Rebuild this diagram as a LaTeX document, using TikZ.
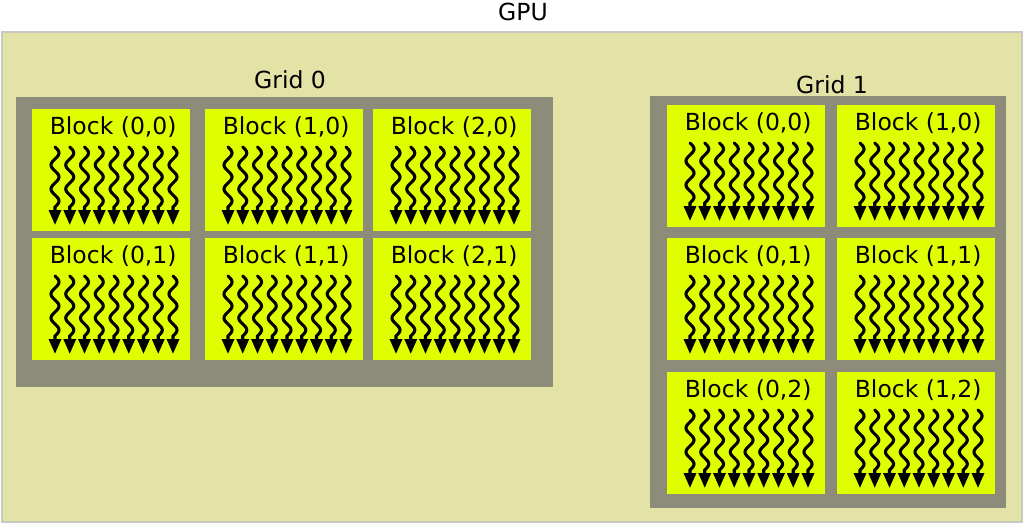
\documentclass[tikz,border=0pt]{standalone}
\usepackage{fontspec}
\setmainfont{DejaVu Sans}
\usetikzlibrary{arrows.meta,calc}
\definecolor{gpufill}{RGB}{227,227,168}
\definecolor{gridgray}{RGB}{141,140,122}
\definecolor{blockyellow}{RGB}{223,255,0}
\definecolor{gpuedge}{RGB}{200,200,190}
\newcommand\cudablock[4]{%
  \node[blockbox] (#1) at (#2,#3) {};
  \node[lbl] (#1-t) at ($(#1.north)+(2,18)$) {#4};
  \begin{scope}[shift={(#1.north west)}]
    \foreach \i in {0,...,8} {
      \draw[thread] plot[domain=0:60,samples=61,smooth]
        ({23+\i*14.75+4*sin(\x*15)},{38+\x}) -- ({23+\i*14.75},116);
    }
  \end{scope}
}
\begin{document}
\begin{tikzpicture}[x=1pt,y=-1pt,
  gpubox/.style={draw=gpuedge, line width=1.5pt, fill=gpufill, anchor=north west, inner sep=0pt},
  gridbox/.style={fill=gridgray, draw=none, anchor=north west, inner sep=0pt},
  blockbox/.style={fill=blockyellow, draw=none, anchor=north west, inner sep=0pt,
    minimum width=158pt, minimum height=122pt},
  lbl/.style={font=\fontsize{23.5}{27}\selectfont, inner sep=0pt, text=black},
  thread/.style={line width=3.1pt, line cap=round, -{Triangle[length=15pt,width=12pt]}}]
\useasboundingbox (0,0) rectangle (1024,523);
\node[gpubox, minimum width=1020pt, minimum height=490pt] (gpu) at (1,31) {};
\node[lbl] (gpul) at (523,12) {GPU};
% Grid 0
\node[gridbox, minimum width=537pt, minimum height=290pt] (grid0) at (16,97) {};
\node[lbl] (grid0l) at (290,80) {Grid 0};
\cudablock{a00}{32}{109}{Block (0,0)}
\cudablock{a10}{205}{109}{Block (1,0)}
\cudablock{a20}{373}{109}{Block (2,0)}
\cudablock{a01}{32}{238}{Block (0,1)}
\cudablock{a11}{205}{238}{Block (1,1)}
\cudablock{a21}{373}{238}{Block (2,1)}
% Grid 1
\node[gridbox, minimum width=356pt, minimum height=412pt] (grid1) at (650,96) {};
\node[lbl] (grid1l) at (832,85) {Grid 1};
\cudablock{b00}{667}{105}{Block (0,0)}
\cudablock{b10}{837}{105}{Block (1,0)}
\cudablock{b01}{667}{238}{Block (0,1)}
\cudablock{b11}{837}{238}{Block (1,1)}
\cudablock{b02}{667}{372}{Block (0,2)}
\cudablock{b12}{837}{372}{Block (1,2)}
\end{tikzpicture}
\end{document}
